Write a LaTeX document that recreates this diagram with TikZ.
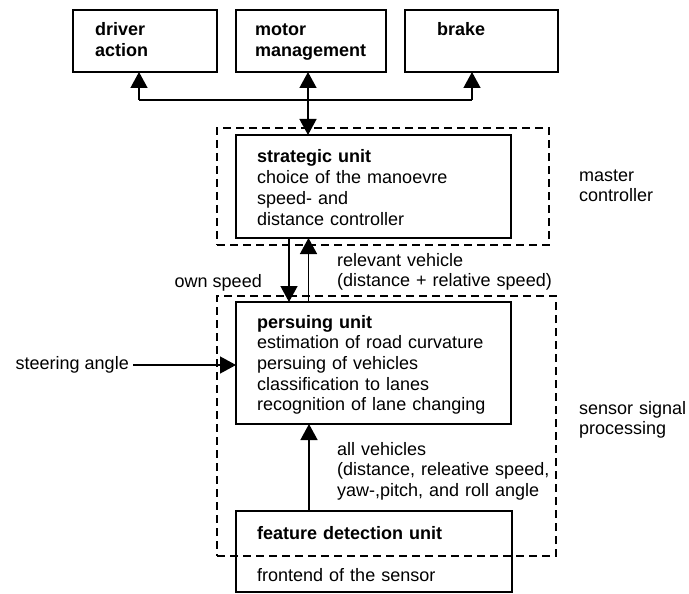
\documentclass[tikz,border=0pt]{standalone}
\usepackage{fontspec}
\setmainfont{Liberation Sans}
\usetikzlibrary{arrows.meta}
\begin{document}
\begin{tikzpicture}[x=1pt,y=-1pt,
  box/.style={draw,line width=1.6pt,inner sep=0pt,outer sep=0pt},
  group/.style={draw,line width=1.5pt,dash pattern=on 8pt off 5pt,inner sep=0pt,outer sep=0pt},
  txt/.style={inner sep=0pt,anchor=base west,align=left,text width=300pt,
    font=\fontsize{18}{20.7}\selectfont},
  lbl/.style={inner sep=0pt,font=\fontsize{18}{20.7}\selectfont},
  arr/.style={line width=1.4pt,-{Triangle[width=17pt,length=16pt]}},
  darr/.style={line width=1.4pt,{Triangle[width=17pt,length=16pt]}-{Triangle[width=17pt,length=16pt]}},
  line/.style={line width=1.4pt}]
\useasboundingbox (0,0) rectangle (689,594);

% dashed groups
\node[group,minimum width=332pt,minimum height=117pt] (mc) at (383,186.5) {};
\node[group,minimum width=339pt,minimum height=260pt] (ssp) at (386.5,426) {};

% top boxes
\node[box,minimum width=144pt,minimum height=62pt] (driver) at (145,41) {};
\node[box,minimum width=150pt,minimum height=62pt] (motor) at (311,41) {};
\node[box,minimum width=153pt,minimum height=62pt] (brake) at (481.5,41) {};
\node[txt] (drivert) at (95,36) {\bfseries driver\\\bfseries action};
\node[txt] (motort) at (255,36) {\bfseries motor\\\bfseries management};
\node[txt] (braket) at (437,36) {\bfseries brake};

% unit boxes
\node[box,minimum width=275pt,minimum height=103pt] (strat) at (373.5,186.5) {};
\node[box,minimum width=275pt,minimum height=122pt] (pers) at (373.5,363) {};
\node[box,minimum width=276pt,minimum height=81pt] (feat) at (374,551.5) {};

\node[txt] (stratt) at (257,163) {\textbf{strategic unit}\\choice of the manoevre\\speed- and\\distance controller};
\node[txt] (perst) at (257,328) {\textbf{persuing unit}\\estimation of road curvature\\persuing of vehicles\\classification to lanes\\recognition of lane changing};
\node[txt] (featt) at (257,539) {\textbf{feature detection unit}};
\node[txt] (frontt) at (257,581) {frontend of the sensor};

% side labels
\node[txt] (mct) at (579,181) {master\\controller};
\node[txt] (sspt) at (579,414) {sensor signal\\processing};
\node[txt] (relt) at (337,266) {relevant vehicle\\(distance + relative speed)};
\node[txt] (allt) at (337,455) {all vehicles\\(distance, releative speed,\\yaw-,pitch, and roll angle};
\node[lbl,anchor=base east] (ownt) at (262,287) {own speed};
\node[lbl,anchor=east] (steer) at (129,365) {steering angle};

% connector coordinates
\coordinate (busL) at (139,100);
\coordinate (busM) at (308,100);
\coordinate (busR) at (472,100);
\coordinate (xa) at (289,270);
\coordinate (xb) at (308.5,270);
\coordinate (xc) at (309,470);

% connectors
\draw[line] (busL) -- (busR);
\draw[arr] (busL) -- (busL |- driver.south);
\draw[arr] (busR) -- (busR |- brake.south);
\draw[darr] (busM |- strat.north) -- (busM |- motor.south);
\draw[arr] (xa |- strat.south) -- (xa |- pers.north);
\draw[arr] (xb |- pers.north) -- (xb |- strat.south);
\draw[arr] ([xshift=4pt]steer.east) -- (pers.west |- steer.east);
\draw[arr] (xc |- feat.north) -- (xc |- pers.south);
\end{tikzpicture}
\end{document}
